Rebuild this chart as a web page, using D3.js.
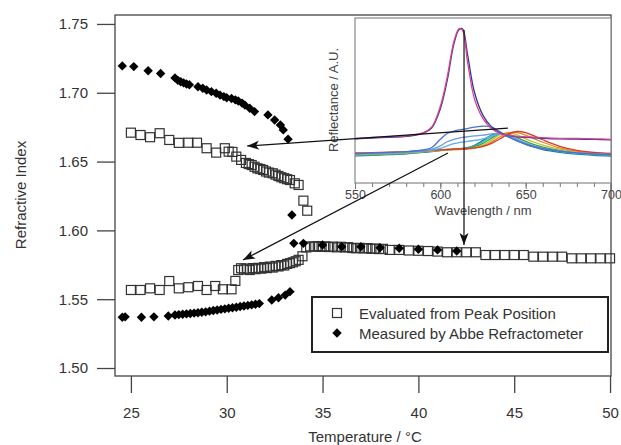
<!DOCTYPE html>
<html>
<head>
<meta charset="utf-8">
<script src="https://cdn.jsdelivr.net/npm/d3@7"></script>
<style>
  body { margin: 0; background: #fff; }
  svg { display: block; font-family: "Liberation Sans", Arial, sans-serif; }
</style>
</head>
<body>
<svg id="chart" width="621" height="445"></svg>
<script>
// Main plot: refractive index vs temperature
const tempTicks = [25, 30, 35, 40, 45, 50];
const indexTicks = [1.50, 1.55, 1.60, 1.65, 1.70, 1.75];

// open squares, evaluated from peak position (upper branch + lower branch)
const peakUpper = [[25.0,1.6710],[25.5,1.6693],[26.0,1.6677],[26.5,1.6706],[27.0,1.6657],[27.5,1.6636],[28.0,1.6637],[28.45,1.6637],[28.95,1.6597],[29.45,1.6565],[29.9,1.6597],[30.1,1.6572],[30.3,1.6570],[30.5,1.6536],[30.75,1.6512],[31.0,1.6490],[31.15,1.6482],[31.3,1.6475],[31.45,1.6462],[31.6,1.6451],[31.75,1.6446],[31.9,1.6439],[32.05,1.6428],[32.2,1.6420],[32.4,1.6415],[32.55,1.6405],[32.7,1.6395],[32.85,1.6386],[33.0,1.6379],[33.15,1.6372],[33.3,1.6366],[33.55,1.6342],[33.75,1.6330],[34.0,1.6216],[34.2,1.6143]];
const peakLower = [[25.0,1.5567],[25.5,1.5567],[26.0,1.5579],[26.5,1.5567],[27.0,1.5632],[27.5,1.5579],[28.0,1.5587],[28.5,1.5596],[28.95,1.5567],[29.4,1.5596],[29.8,1.5572],[30.25,1.5572],[30.45,1.5633],[30.6,1.5712],[30.75,1.5725],[30.9,1.5716],[31.05,1.5722],[31.2,1.5712],[31.35,1.5726],[31.5,1.5718],[31.65,1.5728],[31.8,1.5722],[31.95,1.5733],[32.1,1.5726],[32.25,1.5737],[32.4,1.5730],[32.55,1.5742],[32.7,1.5738],[32.85,1.5748],[33.0,1.5745],[33.15,1.5756],[33.3,1.5762],[33.45,1.5768],[33.6,1.5776],[33.75,1.5786],[33.95,1.5812],[34.15,1.5876],[34.35,1.5884],[34.55,1.5881],[34.75,1.5886],[34.95,1.5880],[35.15,1.5884],[35.35,1.5879],[35.55,1.5882],[35.75,1.5877],[35.95,1.5881],[36.15,1.5876],[36.35,1.5878],[36.55,1.5872],[36.75,1.5870],[36.95,1.5873],[37.15,1.5869],[37.35,1.5871],[37.55,1.5866],[37.75,1.5868],[37.95,1.5864],[38.15,1.5866],[38.5,1.5858],[39.0,1.5858],[39.5,1.5854],[40.0,1.5852],[40.5,1.5850],[41.0,1.5846],[41.5,1.5841],[42.0,1.5841],[42.5,1.5841],[43.0,1.5841],[43.5,1.5821],[44.0,1.5821],[44.5,1.5821],[45.0,1.5821],[45.5,1.5821],[46.0,1.5809],[46.5,1.5809],[47.0,1.5809],[47.5,1.5809],[48.0,1.5797],[48.5,1.5797],[49.0,1.5797],[49.5,1.5797],[50.0,1.5797]];

// filled diamonds, Abbe refractometer
const abbeUpper = [[24.55,1.7195],[25.15,1.7190],[25.9,1.7160],[26.55,1.7140],[27.3,1.7108],[27.45,1.7090],[27.6,1.7080],[27.75,1.7072],[27.9,1.7064],[28.05,1.7058],[28.5,1.7044],[28.75,1.7033],[28.95,1.7020],[29.2,1.7008],[29.45,1.6996],[29.65,1.6983],[29.85,1.6972],[30.0,1.6964],[30.25,1.6958],[30.45,1.6948],[30.6,1.6940],[30.8,1.6925],[30.95,1.6910],[31.2,1.6887],[31.45,1.6863],[32.15,1.6839],[32.5,1.6802],[32.8,1.6766],[32.95,1.6730],[33.2,1.6663]];
const abbeLower = [[24.55,1.5369],[24.7,1.5372],[25.55,1.5369],[26.2,1.5372],[26.95,1.5378],[27.3,1.5385],[27.5,1.5388],[27.7,1.5391],[27.9,1.5393],[28.1,1.5396],[28.3,1.5399],[28.5,1.5402],[28.7,1.5405],[28.9,1.5408],[29.1,1.5413],[29.3,1.5418],[29.5,1.5422],[29.7,1.5426],[29.9,1.5430],[30.1,1.5434],[30.3,1.5438],[30.5,1.5442],[30.7,1.5447],[30.9,1.5451],[31.1,1.5455],[31.3,1.5459],[31.5,1.5463],[31.7,1.5468],[32.35,1.5494],[32.7,1.5511],[33.05,1.5530],[33.3,1.5555]];
const abbeHigh = [[33.4,1.6112],[33.5,1.5906],[34.0,1.5906],[35.0,1.5894],[36.0,1.5882],[37.0,1.5882],[38.0,1.5874],[39.0,1.5870],[40.0,1.5863],[41.0,1.5858],[42.0,1.5850]];

const legendLabels = ["Evaluated from Peak Position", "Measured by Abbe Refractometer"];

// Inset: reflectance spectra
const wavelengths = [550, 560, 570, 580, 590, 595, 600, 604, 608, 611, 613, 616, 620, 625, 630, 635, 640, 645, 650, 655, 660, 670, 680, 690, 700];
const waveTicks = [550, 600, 650, 700];
const spectra = [
  { name: "teal",   color: "#1a7890", r: [0.165,0.168,0.172,0.177,0.185,0.19,0.196,0.2,0.204,0.207,0.209,0.214,0.228,0.258,0.29,0.297,0.278,0.255,0.234,0.217,0.203,0.186,0.175,0.168,0.163] },
  { name: "cyan",   color: "#2ab8c8", r: [0.168,0.171,0.175,0.18,0.188,0.193,0.198,0.202,0.205,0.207,0.209,0.213,0.225,0.25,0.283,0.3,0.285,0.262,0.24,0.222,0.208,0.19,0.179,0.172,0.167] },
  { name: "green",  color: "#3aa04a", r: [0.17,0.173,0.177,0.182,0.19,0.195,0.2,0.203,0.205,0.206,0.207,0.21,0.22,0.24,0.272,0.298,0.295,0.275,0.252,0.233,0.218,0.197,0.184,0.176,0.17] },
  { name: "yellow", color: "#b8c42a", r: [0.172,0.175,0.178,0.183,0.19,0.194,0.198,0.2,0.202,0.203,0.204,0.207,0.214,0.23,0.26,0.293,0.305,0.292,0.268,0.247,0.23,0.205,0.188,0.179,0.173] },
  { name: "orange", color: "#e8862a", r: [0.178,0.18,0.183,0.187,0.193,0.196,0.199,0.201,0.203,0.204,0.205,0.207,0.212,0.224,0.248,0.28,0.305,0.305,0.29,0.268,0.247,0.213,0.193,0.182,0.176] },
  { name: "red",    color: "#d83a2a", r: [0.182,0.184,0.187,0.19,0.195,0.198,0.201,0.203,0.205,0.206,0.207,0.209,0.213,0.222,0.24,0.268,0.298,0.312,0.305,0.285,0.262,0.222,0.198,0.186,0.18] },
  { name: "blue3",  color: "#5ab0e8", r: [0.175,0.178,0.182,0.187,0.195,0.2,0.21,0.225,0.238,0.245,0.248,0.252,0.258,0.268,0.285,0.298,0.288,0.265,0.242,0.224,0.21,0.193,0.182,0.176,0.172] },
  { name: "blue2",  color: "#6a9ae0", r: [0.176,0.179,0.183,0.188,0.197,0.205,0.225,0.25,0.265,0.272,0.276,0.28,0.285,0.29,0.298,0.30,0.285,0.262,0.24,0.222,0.21,0.193,0.183,0.177,0.173] },
  { name: "blue1",  color: "#4a6fd0", r: [0.178,0.181,0.185,0.19,0.2,0.215,0.265,0.3,0.315,0.322,0.325,0.33,0.338,0.345,0.34,0.31,0.28,0.255,0.235,0.22,0.208,0.192,0.182,0.176,0.172] },
  { name: "navy",   color: "#2a3a9a", r: [0.267,0.272,0.277,0.282,0.301,0.335,0.45,0.62,0.845,0.93,0.935,0.775,0.55,0.41,0.34,0.303,0.288,0.28,0.276,0.274,0.271,0.267,0.266,0.264,0.261] },
  { name: "pink",   color: "#e0408a", r: [0.271,0.276,0.281,0.286,0.305,0.34,0.465,0.64,0.86,0.935,0.925,0.73,0.51,0.39,0.33,0.30,0.29,0.283,0.28,0.278,0.275,0.271,0.27,0.268,0.265] }
];

// arrows: start in inset (nm, reflectance) -> end in main plot (temp, index)
const arrows = [
  { from: [639.6, 0.333], to: [31.06, 1.6613] },
  { from: [604.5, 0.182], to: [30.85, 1.5785] },
  { from: [613.9, 0.927], to: [42.38, 1.5894] }
];

const svg = d3.select("#chart");
const textColor = "#333";

const x = d3.scaleLinear().domain([24.17, 50.05]).range([115, 611]);
const y = d3.scaleLinear().domain([1.4942, 1.7565]).range([376, 15]);

// frame
svg.append("rect")
    .attr("x", x.range()[0]).attr("y", y.range()[1])
    .attr("width", x.range()[1] - x.range()[0])
    .attr("height", y.range()[0] - y.range()[1])
    .attr("fill", "none").attr("stroke", "#444").attr("stroke-width", 1.3);

const yAxis = svg.append("g")
    .attr("transform", `translate(${x.range()[0]},0)`)
    .call(d3.axisLeft(y).tickValues(indexTicks).tickFormat(d3.format(".2f")).tickSize(18).tickPadding(9));
const xAxis = svg.append("g")
    .attr("transform", `translate(0,${y.range()[0]})`)
    .call(d3.axisBottom(x).tickValues(tempTicks).tickSize(17).tickPadding(14));
[xAxis, yAxis].forEach(g => {
    g.select(".domain").remove();
    g.selectAll("line").attr("stroke", "#444").attr("stroke-width", 1.3);
    g.selectAll("text").attr("font-size", 15).attr("fill", textColor)
        .attr("font-family", "Liberation Sans, Arial, sans-serif");
});

svg.append("text")
    .attr("transform", "translate(25.5,195) rotate(-90)")
    .attr("text-anchor", "middle").attr("font-size", 15).attr("fill", textColor)
    .text("Refractive Index");
svg.append("text")
    .attr("x", 365).attr("y", 442)
    .attr("text-anchor", "middle").attr("font-size", 15).attr("fill", textColor)
    .text("Temperature / °C");

// markers
const diamond = d3.symbol().type(d3.symbolSquare).size(44);
const sq = 9;

svg.append("g").selectAll("rect")
    .data(peakUpper.concat(peakLower))
    .join("rect")
    .attr("x", d => x(d[0]) - sq / 2)
    .attr("y", d => y(d[1]) - sq / 2)
    .attr("width", sq).attr("height", sq)
    .attr("fill", "none").attr("stroke", "#333").attr("stroke-width", 1.2);

svg.append("g").selectAll("path")
    .data(abbeUpper.concat(abbeLower, abbeHigh))
    .join("path")
    .attr("d", diamond)
    .attr("transform", d => `translate(${x(d[0])},${y(d[1])}) rotate(45)`)
    .attr("fill", "#000");

// legend
const legend = svg.append("g");
legend.append("rect")
    .attr("x", 312).attr("y", 297).attr("width", 296).attr("height", 55)
    .attr("fill", "#fff").attr("stroke", "#222").attr("stroke-width", 2);
legend.append("rect")
    .attr("x", 337 - sq / 2).attr("y", 313 - sq / 2).attr("width", sq).attr("height", sq)
    .attr("fill", "none").attr("stroke", "#333").attr("stroke-width", 1.2);
legend.append("path")
    .attr("d", diamond)
    .attr("transform", "translate(337,333) rotate(45)");
legend.selectAll("text")
    .data(legendLabels)
    .join("text")
    .attr("x", 359).attr("y", (d, i) => 318.5 + i * 20)
    .attr("font-size", 15).attr("fill", textColor)
    .text(d => d);

// inset
const ix = d3.scaleLinear().domain([550, 700]).range([355, 611]);
const iy = d3.scaleLinear().domain([0, 1]).range([183, 18]);
const inset = svg.append("g");

inset.append("rect")
    .attr("x", ix.range()[0]).attr("y", iy.range()[1])
    .attr("width", ix.range()[1] - ix.range()[0])
    .attr("height", iy.range()[0] - iy.range()[1])
    .attr("fill", "#fff").attr("stroke", "#888").attr("stroke-width", 1.2);

const minor = inset.append("g")
    .attr("transform", `translate(0,${iy.range()[0]})`)
    .call(d3.axisBottom(ix).tickValues(d3.range(550, 701, 10)).tickSize(4).tickFormat(""));
const major = inset.append("g")
    .attr("transform", `translate(0,${iy.range()[0]})`)
    .call(d3.axisBottom(ix).tickValues(waveTicks).tickSize(6).tickPadding(1));
[minor, major].forEach(g => {
    g.select(".domain").remove();
    g.selectAll("line").attr("stroke", "#777");
    g.selectAll("text").attr("font-size", 12.5).attr("fill", "#444")
        .attr("font-family", "Liberation Sans, Arial, sans-serif");
});

inset.append("text")
    .attr("x", 483).attr("y", 214.5)
    .attr("text-anchor", "middle").attr("font-size", 13).attr("fill", "#444")
    .text("Wavelength / nm");
inset.append("text")
    .attr("transform", "translate(338,100) rotate(-90)")
    .attr("text-anchor", "middle").attr("font-size", 13).attr("fill", "#444")
    .text("Reflectance / A.U.");

const line = d3.line()
    .x((d, i) => ix(wavelengths[i]))
    .y(d => iy(d))
    .curve(d3.curveCatmullRom);

inset.selectAll(".spec")
    .data(spectra)
    .join("path")
    .attr("class", "spec")
    .attr("d", d => line(d.r))
    .attr("fill", "none")
    .attr("stroke", d => d.color)
    .attr("stroke-width", 1.3);

// arrows
svg.append("defs").append("marker")
    .attr("id", "head")
    .attr("viewBox", "-13 -5 14 10")
    .attr("refX", 0).attr("refY", 0)
    .attr("markerWidth", 14).attr("markerHeight", 10)
    .attr("markerUnits", "userSpaceOnUse")
    .attr("orient", "auto")
    .append("path")
    .attr("d", "M0,0 L-12,-4.5 L-9,0 L-12,4.5 Z")
    .attr("fill", "#111");

svg.append("g").selectAll("line")
    .data(arrows)
    .join("line")
    .attr("x1", d => ix(d.from[0])).attr("y1", d => iy(d.from[1]))
    .attr("x2", d => x(d.to[0])).attr("y2", d => y(d.to[1]))
    .attr("stroke", "#111").attr("stroke-width", 1.2)
    .attr("marker-end", "url(#head)");
</script>
</body>
</html>
